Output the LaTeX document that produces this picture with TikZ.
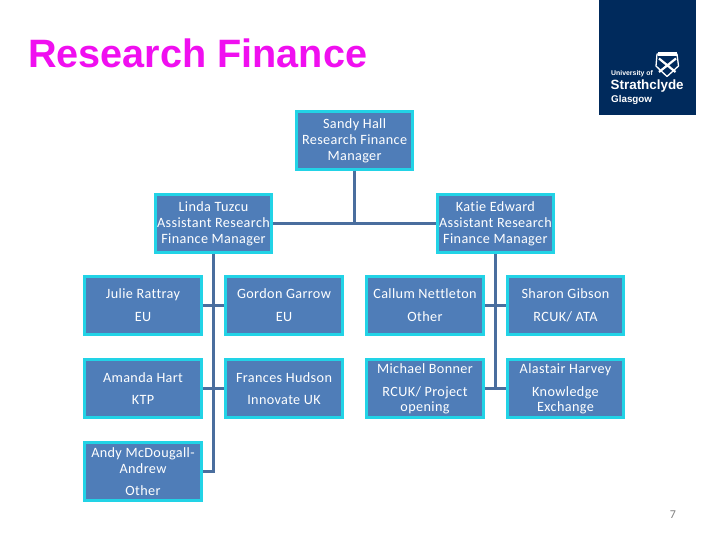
\documentclass[tikz,border=0pt]{standalone}
\usepackage{fontspec}
\setmainfont[LetterSpace=2.6,Ligatures={NoCommon,NoContextual},RawFeature={-liga;-clig;-dlig}]{Carlito}
\newfontfamily\arialf{Liberation Sans}
\definecolor{boxfill}{HTML}{4F7DB8}
\definecolor{boxedge}{HTML}{22D3E6}
\definecolor{linkc}{HTML}{4A6E9E}
\definecolor{navy}{HTML}{002A5C}
\definecolor{titlec}{HTML}{F00FF0}
\tikzset{
 x=1pt,y=-1pt,
 orgbox/.style={draw=boxedge,fill=boxfill,line width=3pt,text=white,minimum width=116.5pt,minimum height=57.7pt,inner sep=0pt,align=center,font=\fontsize{14.2}{16}\selectfont,execute at begin node={\rule{0pt}{12pt}}},
 lowtext/.style={execute at begin node={\rule{0pt}{14pt}}},
 mgrbox/.style={orgbox,minimum width=115.7pt},
 link/.style={draw=linkc,line width=3.3pt},
 logotext/.style={text=white,inner sep=0pt,anchor=base west},
}
\begin{document}
\begin{tikzpicture}
\useasboundingbox (0,0) rectangle (720,540);
\fill[white] (0,0) rectangle (720,540);
\node[mgrbox,lowtext] (top) at (354.6,140.3) {Sandy Hall\\Research Finance\\Manager};
\node[mgrbox,lowtext] (linda) at (213.5,223.3) {Linda Tuzcu\\Assistant Research\\Finance Manager};
\node[mgrbox,lowtext] (katie) at (495.4,223.3) {Katie Edward\\Assistant Research\\Finance Manager};
\node[orgbox,lowtext] (julie) at (143,305.3) {Julie Rattray\\[7pt]EU};
\node[orgbox,lowtext] (gordon) at (284,305.3) {Gordon Garrow\\[7pt]EU};
\node[orgbox,lowtext] (callum) at (425,305.3) {Callum Nettleton\\[7pt]Other};
\node[orgbox,lowtext] (sharon) at (565.5,305.3) {Sharon Gibson\\[7pt]RCUK/ ATA};
\node[orgbox] (amanda) at (143,388.7) {Amanda Hart\\[6pt]KTP};
\node[orgbox] (frances) at (284,388.7) {Frances Hudson\\[6pt]Innovate UK};
\node[orgbox,lowtext,font=\fontsize{14.2}{15}\selectfont] (michael) at (425,388.7) {Michael Bonner\\[8pt]RCUK/ Project\\opening};
\node[orgbox,lowtext,font=\fontsize{14.2}{15}\selectfont] (alastair) at (565.5,388.7) {Alastair Harvey\\[8pt]Knowledge\\Exchange};
\node[orgbox,font=\fontsize{14.2}{16.5}\selectfont] (andy) at (143,471.5) {Andy McDougall-\\Andrew\\[5.5pt]Other};
\coordinate (llow) at (linda.south |- andy.east);
\coordinate (rlow) at (katie.south |- michael.east);
\coordinate (mid) at (top.south |- linda.east);
\draw[link] (top.south) -- (mid);
\draw[link] (linda.east) -- (katie.west);
\draw[link] (linda.south) -- (llow) -- (andy.east);
\draw[link] (julie.east) -- (gordon.west);
\draw[link] (amanda.east) -- (frances.west);
\draw[link] (katie.south) -- (rlow);
\draw[link] (callum.east) -- (sharon.west);
\draw[link] (michael.east) -- (alastair.west);
\node[anchor=base west,inner sep=0pt,text=titlec,font=\arialf\bfseries\fontsize{39.6}{42}\selectfont] (title) at (28,67.7) {Research Finance};
\fill[navy] (599,0) rectangle (696,115.3);
\node[logotext,font=\arialf\bfseries\fontsize{6.9}{8}\selectfont] (uni) at (611,76) {University of};
\node[logotext,font=\arialf\bfseries\fontsize{13.4}{15}\selectfont] (strath) at (610.5,90) {Strathclyde};
\node[logotext,font=\arialf\bfseries\fontsize{9.8}{11}\selectfont] (glas) at (611,103) {Glasgow};
\filldraw[fill=navy,draw=white,line width=1.3pt,line join=round] (657,54) -- (677,54) -- (678.5,66) -- (667,76.5) -- (656,66) -- cycle;
\draw[white,line width=2.2pt] (659,58.5) -- (675.5,72) (676,58.5) -- (659,72);
\fill[white] (658,52) rectangle (677,56);
\node[anchor=center,inner sep=0pt,text=gray,font=\fontsize{12}{14}\selectfont] (page) at (673,514.5) {7};
\end{tikzpicture}
\end{document}
